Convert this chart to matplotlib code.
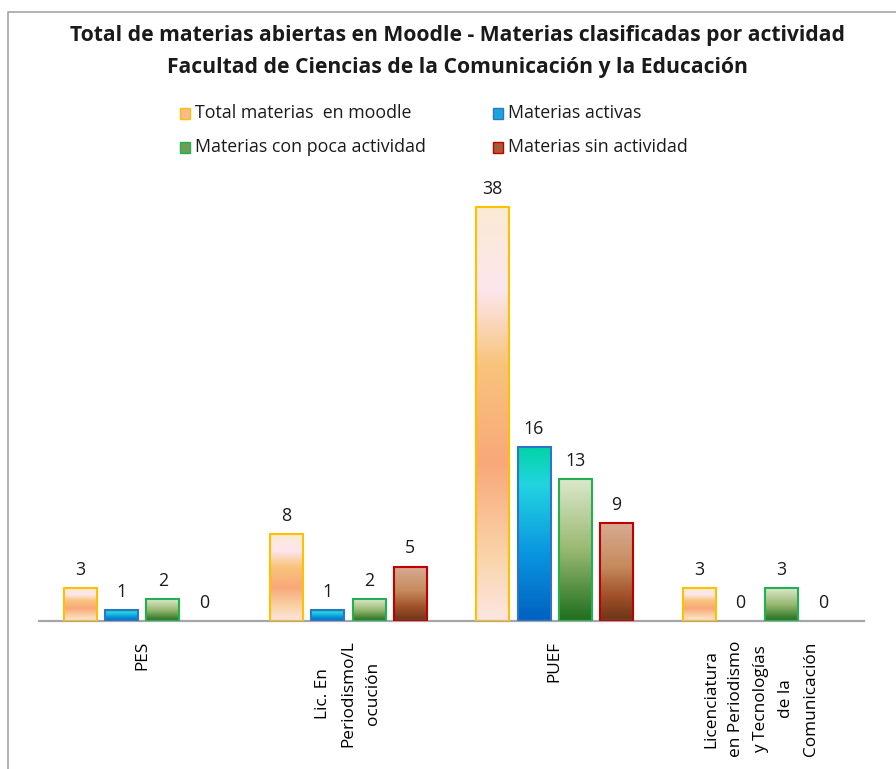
import numpy as np
import matplotlib
matplotlib.use("Agg")
import matplotlib.pyplot as plt
from matplotlib.colors import LinearSegmentedColormap
from matplotlib.patches import Rectangle
from matplotlib.lines import Line2D

# ---------------- data ----------------
categories = ["PES", "Lic. En\nPeriodismo/L\nocución", "PUEF",
              "Licenciatura\nen Periodismo\ny Tecnologías\nde la\nComunicación"]
series_names = ["Total materias  en moodle", "Materias activas",
                "Materias con poca actividad", "Materias sin actividad"]
total_moodle = [3, 8, 38, 3]
activas = [1, 1, 16, 0]
poca_actividad = [2, 2, 13, 3]
sin_actividad = [0, 5, 9, 0]
series_values = [total_moodle, activas, poca_actividad, sin_actividad]
title_lines = ["Total de materias abiertas en Moodle - Materias clasificadas por actividad",
               "Facultad de Ciencias de la Comunicación y la Educación"]

# ---------------- styles ----------------
FONT = "Open Sans"
plt.rcParams["font.family"] = [FONT, "DejaVu Sans"]

edge_colors = ["#FFC000", "#2E75C8", "#22B050", "#C00000"]
legend_colors = ["#F9BC8A", "#1AA6DC", "#6E9E55", "#A85A35"]
gradients = [
    [(0.0, "#FAEBD3"), (0.2, "#FDE6EE"), (0.38, "#F8C47C"), (0.62, "#F8A87A"),
     (0.85, "#FAD5AB"), (1.0, "#FDE6E3")],
    [(0.0, "#00D4A4"), (0.22, "#22D4E0"), (0.6, "#0A98E0"), (1.0, "#0060C0")],
    [(0.0, "#DCE8CC"), (0.5, "#98B870"), (1.0, "#1E6E1E")],
    [(0.0, "#D8AC94"), (0.45, "#C68A5C"), (0.75, "#A05028"), (1.0, "#6A3418")],
]

W, H = 896, 769
fig = plt.figure(figsize=(W / 100, H / 100), dpi=100)

# chart border (cropped at right/bottom)
fig.add_artist(Line2D([8 / W, 8 / W, 1.0], [0.0, 1 - 12 / H, 1 - 12 / H],
                      transform=fig.transFigure, color="#A6A6A6", lw=1.2))

ax = fig.add_axes([39 / W, 1 - 621 / H, 825 / W, 436 / H])
for s in ["top", "right", "left"]:
    ax.spines[s].set_visible(False)
ax.spines["bottom"].set_color("#A6A6A6")
ax.spines["bottom"].set_linewidth(1.6)
ax.set_yticks([])

x = np.arange(len(categories))
bar_w = 0.16
step = 0.2
offsets = [-1.5 * step, -0.5 * step, 0.5 * step, 1.5 * step]

for i, vals in enumerate(series_values):
    lws = [1.5 if v > 0 else 0 for v in vals]
    cont = ax.bar(x + offsets[i], vals, width=bar_w, facecolor="none",
                  edgecolor=edge_colors[i], linewidth=lws, zorder=3)
    cmap = LinearSegmentedColormap.from_list("g%d" % i, gradients[i])
    img = cmap(np.linspace(0, 1, 256)).reshape(256, 1, 4)
    for rect in cont.patches:
        h = rect.get_height()
        if h <= 0:
            continue
        x0 = rect.get_x()
        im = ax.imshow(img, extent=(x0, x0 + rect.get_width(), 0, h),
                       origin="upper", aspect="auto", zorder=2,
                       interpolation="bilinear")
        im.set_clip_path(rect)
    ax.bar_label(cont, labels=[str(v) for v in vals], padding=6.5,
                 fontsize=12.8, color="#1a1a1a")

ax.set_xlim(-0.5, len(categories) - 0.5)
ax.set_ylim(0, 40)
ax.set_xticks(x)
ax.set_xticklabels(categories, rotation=90, va="top", ha="center",
                   multialignment="center", fontsize=12.4, linespacing=1.75)
ax.tick_params(axis="x", length=0, pad=14)

# title
fig.text(457 / W, 1 - 36 / H, title_lines[0], ha="center", va="center",
         fontsize=15.2, fontweight="bold", color="#1a1a1a")
fig.text(457 / W, 1 - 67 / H, title_lines[1], ha="center", va="center",
         fontsize=15.2, fontweight="bold", color="#1a1a1a")

# legend (2 columns)
col_x = [180, 493]
row_y = [113, 147]
for i, name in enumerate(series_names):
    cx = col_x[i % 2]
    cy = row_y[i // 2]
    fig.add_artist(Rectangle((cx / W, 1 - (cy + 5.5) / H), 10 / W, 11 / H,
                             transform=fig.transFigure,
                             facecolor=legend_colors[i], edgecolor=edge_colors[i],
                             lw=1.0))
    fig.text((cx + 15) / W, 1 - cy / H, name, ha="left", va="center",
             fontsize=12.8, color="#1a1a1a")

fig.savefig("out.png", dpi=100)
